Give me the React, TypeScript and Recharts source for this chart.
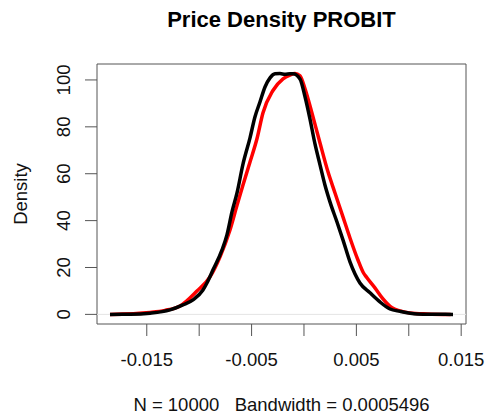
import React from "react";
import { LineChart, Line, XAxis, YAxis, ReferenceArea, ReferenceLine } from "recharts";

const xTicks = [-0.015, -0.01, -0.005, 0, 0.005, 0.01, 0.015];
const xTickLabels = ["-0.015", "", "-0.005", "", "0.005", "", "0.015"];
const yTicks = [0, 20, 40, 60, 80, 100];
const yTickLabels = ["0", "20", "40", "60", "80", "100"];

const blackX = [
  -0.01851, -0.0166, -0.01469, -0.01279, -0.01155, -0.01059, -0.00964, -0.00926, -0.00868, -0.00782,
  -0.00735, -0.00687, -0.00639, -0.00582, -0.00515, -0.00468, -0.0042, -0.00372, -0.00324, -0.00277,
  -0.00229, -0.00181, -0.00134, -0.00105, -0.00038, 0.0001, 0.00057, 0.00105, 0.00153, 0.002,
  0.00248, 0.00315, 0.00372, 0.00439, 0.00534, 0.0063, 0.00725, 0.00821, 0.00916, 0.01078,
  0.0125, 0.01422,
];
const blackY = [
  0, 0.05, 0.5, 1.9, 4.05, 6.2, 10.4, 13.4, 19.0, 27.5,
  33.9, 43.7, 51.8, 64.1, 75.3, 84.2, 90.6, 97.0, 100.9, 102.6,
  102.7, 102.4, 102.6, 102.6, 100.4, 92.8, 83.4, 72.7, 63.8, 55.2,
  48.0, 39.4, 31.8, 22.4, 13.4, 9.2, 5.3, 2.3, 1.3, 0.2,
  0.05, 0,
];

const redX = [
  -0.01851, -0.01469, -0.01326, -0.01183, -0.01021, -0.00897, -0.00802, -0.00706, -0.00639, -0.00582,
  -0.00515, -0.00448, -0.00391, -0.00296, -0.002, -0.00134, -0.00086, -0.00038, 0.0001, 0.00076,
  0.00153, 0.00229, 0.00296, 0.00372, 0.00439, 0.00515, 0.00563, 0.00601, 0.00677, 0.00754,
  0.0084, 0.00916, 0.01011, 0.01174, 0.0140,
];
const redY = [
  0, 0.85, 1.7, 3.6, 10.0, 16.0, 24.5, 36.0, 46.5, 55.2,
  65.0, 75.0, 86.0, 95.5, 100.5, 102.1, 102.8, 101.8, 96.2, 85.9,
  73.1, 60.8, 51.8, 41.6, 32.6, 23.2, 18.1, 15.6, 11.3, 6.6,
  2.8, 1.5, 0.6, 0.2, 0,
];

const blackData = blackX.map((x, i) => ({ x, y: blackY[i] }));
const redData = redX.map((x, i) => ({ x, y: redY[i] }));

const X_DOMAIN: [number, number] = [-0.01975, 0.01546];
const Y_DOMAIN: [number, number] = [-4.1, 106.8];

const FONT = "'Liberation Sans', Arial, Helvetica, sans-serif";

const XTick = (props: any) => {
  const { x, y, payload } = props;
  const idx = xTicks.indexOf(payload.value);
  const label = idx >= 0 ? xTickLabels[idx] : "";
  if (!label) return <g />;
  return (
    <text x={x} y={y + 28} textAnchor="middle" fontSize={18.5} fontFamily={FONT} fill="#111">
      {label}
    </text>
  );
};

const YTick = (props: any) => {
  const { x, y, payload } = props;
  const idx = yTicks.indexOf(payload.value);
  const label = idx >= 0 ? yTickLabels[idx] : "";
  const bx = x - 13;
  return (
    <text
      x={bx}
      y={y}
      transform={`rotate(-90, ${bx}, ${y})`}
      textAnchor="middle"
      fontSize={18.5}
      fontFamily={FONT}
      fill="#111"
    >
      {label}
    </text>
  );
};

export default function App() {
  return (
    <div style={{ position: "absolute", left: 0, top: 0, width: 487, height: 414, background: "#fff" }}>
      <LineChart
        width={487}
        height={414}
        margin={{ top: 64, right: 21, left: 0, bottom: 0 }}
      >
        <XAxis
          type="number"
          dataKey="x"
          domain={X_DOMAIN}
          ticks={xTicks}
          allowDataOverflow
          height={90}
          tickSize={12}
          tickMargin={2}
          axisLine={false}
          tickLine={{ stroke: "#555", strokeWidth: 1 }}
          tick={<XTick />}
          interval={0}
        />
        <YAxis
          type="number"
          dataKey="y"
          domain={Y_DOMAIN}
          ticks={yTicks}
          allowDataOverflow
          width={97}
          tickSize={12}
          tickMargin={2}
          axisLine={false}
          tickLine={{ stroke: "#555", strokeWidth: 1 }}
          tick={<YTick />}
          interval={0}
        />
        <ReferenceLine y={0} stroke="#e4e4e4" strokeWidth={1} ifOverflow="hidden" />
        <ReferenceArea
          x1={X_DOMAIN[0]}
          x2={X_DOMAIN[1]}
          y1={Y_DOMAIN[0]}
          y2={Y_DOMAIN[1]}
          fill="none"
          fillOpacity={0}
          stroke="#555"
          strokeWidth={1}
          ifOverflow="visible"
        />
        <Line
          data={redData}
          dataKey="y"
          type="monotone"
          stroke="#ff0000"
          strokeWidth={3.5}
          dot={false}
          isAnimationActive={false}
        />
        <Line
          data={blackData}
          dataKey="y"
          type="monotone"
          stroke="#000000"
          strokeWidth={3.5}
          dot={false}
          isAnimationActive={false}
        />
      </LineChart>
      <svg
        width={487}
        height={414}
        style={{ position: "absolute", left: 0, top: 0, pointerEvents: "none" }}
      >
        <text x={281.5} y={27} textAnchor="middle" fontSize={22} fontWeight="bold" fontFamily={FONT} fill="#000">
          Price Density PROBIT
        </text>
        <text
          x={281.5}
          y={410.5}
          textAnchor="middle"
          fontSize={18.5}
          fontFamily={FONT}
          fill="#111"
          style={{ whiteSpace: "pre" }}
        >
          {"N = 10000   Bandwidth = 0.0005496"}
        </text>
        <text
          x={27}
          y={194}
          transform="rotate(-90, 27, 194)"
          textAnchor="middle"
          fontSize={18.5}
          fontFamily={FONT}
          fill="#111"
        >
          Density
        </text>
      </svg>
    </div>
  );
}
